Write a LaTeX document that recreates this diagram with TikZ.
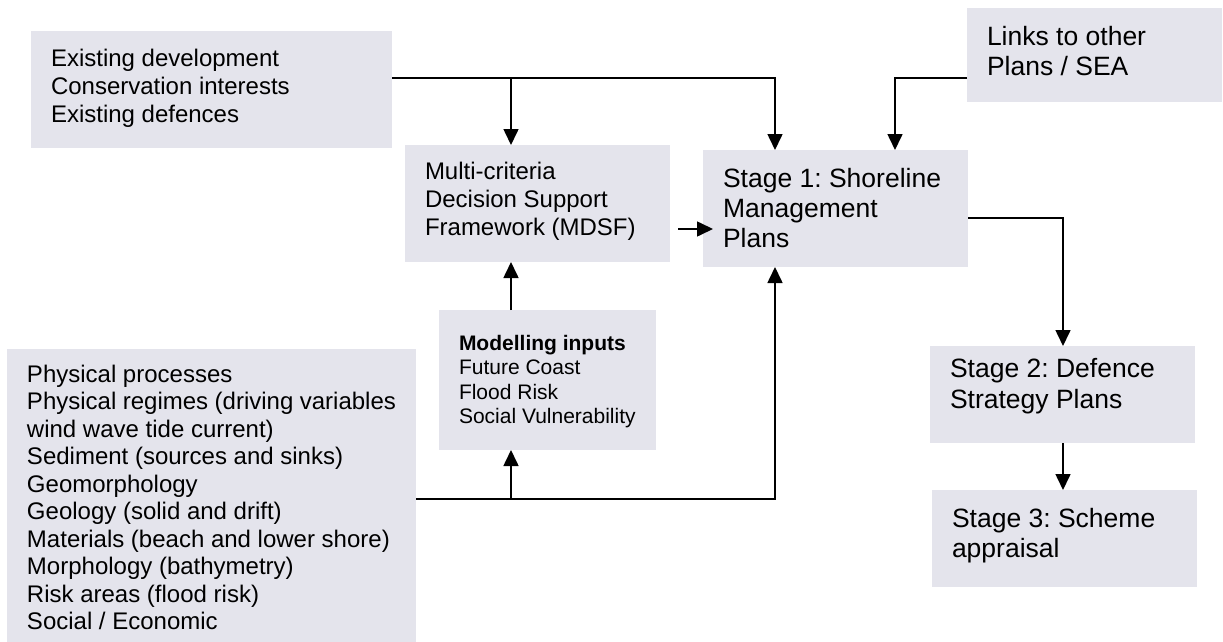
\documentclass[tikz,border=0pt]{standalone}
\usepackage{fontspec}
\setmainfont{Liberation Sans}
\usetikzlibrary{arrows.meta}
\definecolor{boxgray}{RGB}{228,228,236}
\frenchspacing
\newcommand\boxtext[5]{\begin{minipage}[t][#1pt][t]{#2pt}\frenchspacing\fontsize{#3pt}{#4pt}\selectfont #5\end{minipage}}
\tikzset{
  box/.style={fill=boxgray, draw=none, anchor=north west, inner xsep=20pt, outer sep=0pt},
  arr/.style={line width=1.6pt, -{Triangle[length=16pt,width=15pt]}},
}
\begin{document}
\begin{tikzpicture}[x=1pt,y=-1pt]
\useasboundingbox (0,0) rectangle (1223,642);
% boxes
\node[box, inner ysep=18pt] (A) at (31,31)
  {\boxtext{81}{321}{24}{28}{Existing development\\Conservation interests\\Existing defences}};
\node[box, inner ysep=18pt] (L) at (967,8)
  {\boxtext{58}{215}{26.5}{30}{Links to other\\Plans / SEA}};
\node[box, inner ysep=17pt] (M) at (405,145)
  {\boxtext{83}{225}{24}{28}{Multi-criteria\\Decision Support\\Framework (MDSF)}};
\node[box, inner ysep=18pt] (S1) at (703,150)
  {\boxtext{81}{225}{26.5}{30}{Stage 1: Shoreline\\Management\\Plans}};
\node[box, inner ysep=25pt] (Mi) at (439,310)
  {\boxtext{90}{177}{21}{24.5}{\textbf{Modelling inputs}\\Future Coast\\Flood Risk\\Social Vulnerability}};
\node[box, inner ysep=16pt] (P) at (7,349)
  {\boxtext{261}{369}{24}{27.5}{Physical processes\\Physical regimes (driving variables\\wind wave tide current)\\Sediment (sources and sinks)\\Geomorphology\\Geology (solid and drift)\\Materials (beach and lower shore)\\Morphology (bathymetry)\\Risk areas (flood risk)\\Social / Economic}};
\node[box, inner ysep=12pt] (S2) at (930,346)
  {\boxtext{73}{225}{26.5}{31}{Stage 2: Defence\\Strategy Plans}};
\node[box, inner ysep=18pt] (S3) at (932,490)
  {\boxtext{61}{225}{26.5}{30}{Stage 3: Scheme\\appraisal}};
% routing coordinates
\coordinate (j1) at (775,78);
\coordinate (b1) at (511,78);
\coordinate (j2) at (895,78);
\coordinate (ym) at (0,229);
\coordinate (j3) at (1063,218);
\coordinate (j4) at (775,499);
\coordinate (b2) at (511,499);
% connectors
\draw[arr] (j1 -| A.east) -| (S1.north -| j1);
\draw[arr] (b1) -- (b1 |- M.north);
\draw[arr] (j2 -| L.west) -| (S1.north -| j2);
\draw[arr, shorten <=8pt, shorten >=-10pt] (M.east |- ym) -- (S1.west |- ym);
\draw[arr] (j3 -| S1.east) -| (S2.north -| j3);
\draw[arr] (S2.south -| j3) -- (S3.north -| j3);
\draw[arr] (j4 -| P.east) -| (S1.south -| j4);
\draw[arr] (b2) -- (b2 |- Mi.south);
\draw[arr] (Mi.north -| b2) -- (M.south -| b2);
\end{tikzpicture}
\end{document}
